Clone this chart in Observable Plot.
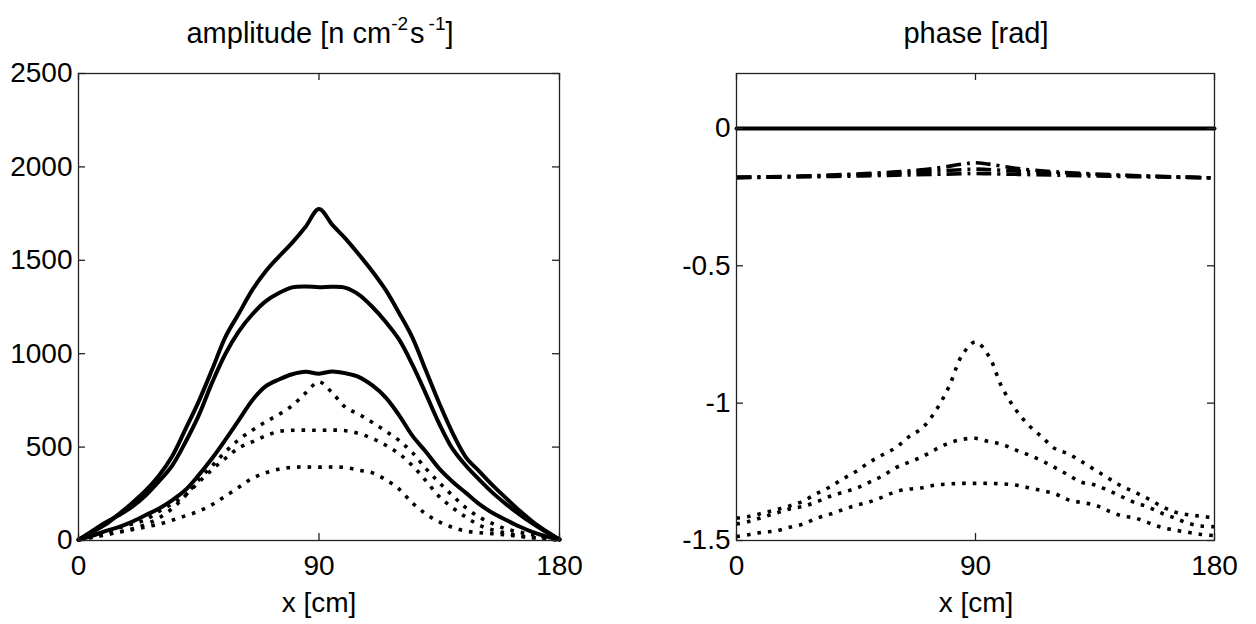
<!DOCTYPE html>
<html><head><meta charset="utf-8">
<script src="https://cdn.jsdelivr.net/npm/d3@7"></script>
<script src="https://cdn.jsdelivr.net/npm/@observablehq/plot@0.6"></script>
<style>
html,body{margin:0;padding:0;background:#fff;}
#wrap{position:relative;width:1256px;height:624px;overflow:hidden;font-family:"Liberation Sans",Arial,Helvetica,sans-serif;color:#000;}
.lbl{position:absolute;white-space:nowrap;transform:translateX(-50%);line-height:1;}
.title{font-size:29px;top:19px;}
.xlab{font-size:28px;top:589px;}
sup{font-size:19px;vertical-align:baseline;position:relative;top:-13px;}
sup.s1{margin-left:0px;margin-right:2px;}
sup.s2{margin-left:4px;}
</style></head><body><div id="wrap"></div>
<script>
// ---------- data ----------
const gridX = [0,5,10,15,20,25,30,35,40,45,50,55,60,65,70,75,80,85,90,95,100,105,110,115,120,125,130,135,140,145,150,155,160,165,170,175,180];

// amplitude, solid curves
const ampSolid1 = [5,45,85,140,200,265,345,450,595,745,915,1090,1215,1340,1440,1520,1595,1680,1775,1690,1615,1530,1440,1340,1217,1085,910,735,575,445,370,295,227,160,100,50,5];
const ampSolid2 = [3,50,95,135,180,240,315,400,526,670,845,1000,1120,1210,1280,1325,1355,1360,1356,1358,1352,1315,1250,1170,1075,940,785,625,490,400,325,255,195,140,90,45,5];
const ampSolid3 = [3,25,50,72,100,135,170,215,270,350,440,540,645,750,825,862,890,903,893,905,895,875,830,765,670,560,475,385,315,255,195,147,110,75,45,22,5];
// amplitude, dotted curves
const ampDot1 = [5,18,32,45,62,85,120,170,240,325,400,475,540,590,635,675,722,790,849,790,712,675,632,585,535,470,385,310,240,175,125,90,62,45,30,18,5];
const ampDot2 = [3,25,45,68,88,110,155,195,243,312,380,440,495,528,560,584,590,591,590,591,588,572,546,510,464,400,320,235,175,125,82,56,40,26,16,8,3];
const ampDot3 = [3,16,30,44,58,72,87,108,132,157,192,238,285,333,362,382,392,393,393,393,391,376,362,325,275,200,142,100,70,50,42,36,30,22,15,8,3];

// phase, solid and dash-dot curves
const phaseSolidX = [0,180];
const phaseSolid = [0,0];
const phaseDashX = [0,20,40,60,75,85,90,95,105,120,140,160,180];
const phaseDash1 = [-0.178,-0.175,-0.168,-0.158,-0.145,-0.13,-0.125,-0.13,-0.145,-0.158,-0.168,-0.175,-0.18];
const phaseDash2 = [-0.178,-0.175,-0.17,-0.163,-0.155,-0.15,-0.148,-0.15,-0.155,-0.163,-0.17,-0.175,-0.18];
const phaseDash3 = [-0.179,-0.177,-0.174,-0.17,-0.167,-0.165,-0.164,-0.165,-0.167,-0.17,-0.174,-0.177,-0.18];
// phase, dotted curves
const phaseDot1 = [-1.419,-1.412,-1.40,-1.388,-1.374,-1.357,-1.33,-1.306,-1.276,-1.249,-1.215,-1.188,-1.162,-1.122,-1.09,-1.028,-0.94,-0.825,-0.777,-0.828,-0.943,-1.022,-1.08,-1.123,-1.166,-1.185,-1.213,-1.243,-1.273,-1.302,-1.324,-1.348,-1.375,-1.396,-1.406,-1.412,-1.418];
const phaseDot2 = [-1.44,-1.43,-1.415,-1.40,-1.385,-1.376,-1.36,-1.34,-1.325,-1.31,-1.288,-1.265,-1.235,-1.215,-1.195,-1.168,-1.145,-1.132,-1.128,-1.14,-1.15,-1.17,-1.188,-1.21,-1.235,-1.262,-1.288,-1.298,-1.318,-1.34,-1.362,-1.378,-1.40,-1.418,-1.437,-1.447,-1.45];
const phaseDot3 = [-1.486,-1.478,-1.47,-1.465,-1.452,-1.44,-1.42,-1.405,-1.388,-1.372,-1.36,-1.342,-1.322,-1.313,-1.308,-1.298,-1.294,-1.292,-1.292,-1.292,-1.294,-1.298,-1.308,-1.318,-1.33,-1.352,-1.362,-1.371,-1.392,-1.41,-1.418,-1.435,-1.452,-1.462,-1.47,-1.478,-1.482];

const xTicks = [0,90,180];
const ampTicks = [0,500,1000,1500,2000,2500];
const phaseTicks = [0,-0.5,-1,-1.5];
const xDomain = [0,180];
const ampDomain = [0,2500];
const phaseDomain = [-1.5,0.2];

const titleAmp = 'amplitude [n cm<sup class="s1">-2</sup>s<sup class="s2">-1</sup>]';
const titlePhase = 'phase [rad]';
const xLabel = 'x [cm]';

// ---------- drawing ----------
const W = 628, H = 624, MT = 73, MB = 84, TICK = 7;
const FONT = "'Liberation Sans', Arial, Helvetica, sans-serif";
const rows = (xs, ys) => xs.map((x, i) => ({x, y: ys[i]}));
const solid = {stroke: "black", strokeWidth: 4, curve: "catmull-rom"};
const dotted = {stroke: "black", strokeWidth: 3.6, strokeDasharray: "3.6,7", strokeLinecap: "butt", curve: "catmull-rom"};
const dashdot = {stroke: "black", strokeWidth: 3.6, strokeDasharray: "15,6,3,6", strokeLinecap: "butt", curve: "catmull-rom"};

function panel({ml, mr, yDomain, yTicks, lines}) {
  const iw = W - ml - mr, ih = H - MT - MB;
  const axisStyle = {stroke: "#222", strokeWidth: 1.3};
  return Plot.plot({
    width: W, height: H,
    marginLeft: ml, marginRight: mr, marginTop: MT, marginBottom: MB,
    style: {fontFamily: FONT, background: "transparent", color: "black", overflow: "visible"},
    x: {domain: xDomain, label: null},
    y: {domain: yDomain, label: null},
    marks: [
      ...lines,
      Plot.frame(axisStyle),
      Plot.tickY(yTicks, {y: d => d, insetRight: iw - TICK, ...axisStyle}),
      Plot.tickY(yTicks, {y: d => d, insetLeft: iw - TICK, ...axisStyle}),
      Plot.tickX(xTicks, {x: d => d, insetTop: ih - TICK, ...axisStyle}),
      Plot.tickX(xTicks, {x: d => d, insetBottom: ih - TICK, ...axisStyle}),
      Plot.axisY(yTicks, {tickSize: 0, tickPadding: 6, fontSize: 28, label: null, tickFormat: d => String(d), fill: "black"}),
      Plot.axisX(xTicks, {tickSize: 0, tickPadding: 15, fontSize: 28, label: null, tickFormat: d => String(d), fill: "black"})
    ]
  });
}

const left = panel({
  ml: 78, mr: 69, yDomain: ampDomain, yTicks: ampTicks,
  lines: [
    Plot.line(rows(gridX, ampDot1), {x: "x", y: "y", ...dotted}),
    Plot.line(rows(gridX, ampDot2), {x: "x", y: "y", ...dotted}),
    Plot.line(rows(gridX, ampDot3), {x: "x", y: "y", ...dotted}),
    Plot.line(rows(gridX, ampSolid1), {x: "x", y: "y", ...solid}),
    Plot.line(rows(gridX, ampSolid2), {x: "x", y: "y", ...solid}),
    Plot.line(rows(gridX, ampSolid3), {x: "x", y: "y", ...solid})
  ]
});
const right = panel({
  ml: 108, mr: 42, yDomain: phaseDomain, yTicks: phaseTicks,
  lines: [
    Plot.line(rows(phaseSolidX, phaseSolid), {x: "x", y: "y", ...solid}),
    Plot.line(rows(phaseDashX, phaseDash1), {x: "x", y: "y", ...dashdot}),
    Plot.line(rows(phaseDashX, phaseDash2), {x: "x", y: "y", ...dashdot}),
    Plot.line(rows(phaseDashX, phaseDash3), {x: "x", y: "y", ...dashdot}),
    Plot.line(rows(gridX, phaseDot1), {x: "x", y: "y", ...dotted}),
    Plot.line(rows(gridX, phaseDot2), {x: "x", y: "y", ...dotted}),
    Plot.line(rows(gridX, phaseDot3), {x: "x", y: "y", ...dotted})
  ]
});

const wrap = document.getElementById("wrap");
[[left, 0], [right, W]].forEach(([svg, x]) => {
  svg.style.position = "absolute";
  svg.style.left = x + "px";
  svg.style.top = "0px";
  wrap.appendChild(svg);
});
function addLabel(cls, html, cx) {
  const d = document.createElement("div");
  d.className = "lbl " + cls;
  d.innerHTML = html;
  d.style.left = cx + "px";
  wrap.appendChild(d);
}
addLabel("title", titleAmp, 320);
addLabel("title", titlePhase, 976);
addLabel("xlab", xLabel, 319);
addLabel("xlab", xLabel, 976);
</script></body></html>
